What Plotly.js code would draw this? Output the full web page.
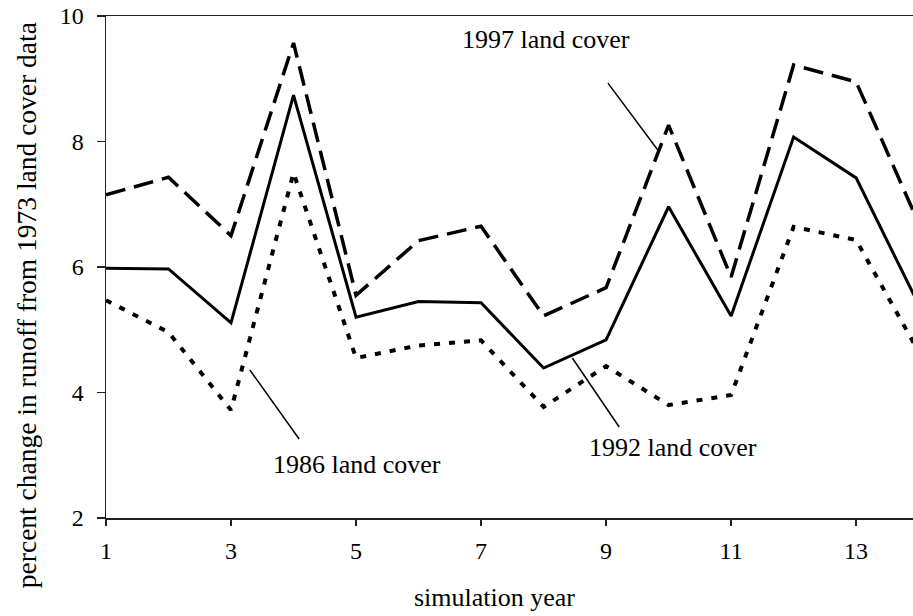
<!DOCTYPE html>
<html>
<head>
<meta charset="utf-8">
<script src="https://cdn.plot.ly/plotly-3.0.1.min.js"></script>
<style>html,body{margin:0;padding:0;background:#fff;}#chart{width:913px;height:616px;}</style>
</head>
<body>
<div id="chart"></div>
<script>
const years = [1,2,3,4,5,6,7,8,9,10,11,12,13,14];
const cover1997 = [7.15,7.43,6.5,9.57,5.55,6.42,6.65,5.22,5.67,8.26,5.84,9.22,8.95,6.7];
const cover1992 = [5.98,5.97,5.11,8.74,5.2,5.45,5.43,4.39,4.84,6.96,5.22,8.07,7.42,5.4];
const cover1986 = [5.47,4.96,3.72,7.5,4.55,4.75,4.83,3.77,4.42,3.8,3.96,6.64,6.43,4.65];
const xTicks = [1,3,5,7,9,11,13];
const yTicks = [2,4,6,8,10];
const xTitle = 'simulation year';
const yTitle = 'percent change in runoff from 1973 land cover data';

const FONT = "'Liberation Serif', 'Times New Roman', serif";

const traces = [
  {x: years, y: cover1997, mode: 'lines', name: '1997 land cover',
   line: {color: '#000', width: 3.5, dash: '20px,9px'}},
  {x: years, y: cover1992, mode: 'lines', name: '1992 land cover',
   line: {color: '#000', width: 3}},
  {x: years, y: cover1986, mode: 'lines', name: '1986 land cover',
   line: {color: '#000', width: 4, dash: '6px,9px'}}
];

const layout = {
  width: 913, height: 616,
  margin: {l: 106, r: 0, t: 16, b: 98},
  paper_bgcolor: '#fff', plot_bgcolor: '#fff',
  showlegend: false,
  font: {family: FONT, color: '#000'},
  xaxis: {
    range: [1, 13.91], tickvals: xTicks, ticktext: xTicks.map(String),
    showgrid: false, zeroline: false, showline: true, linecolor: '#222', linewidth: 1.5,
    mirror: true, ticks: 'outside', ticklen: 6, tickcolor: '#222', tickwidth: 1.5,
    tickfont: {size: 24, family: FONT}, ticklabelstandoff: 5
  },
  yaxis: {
    range: [2, 10], tickvals: yTicks, ticktext: yTicks.map(String),
    showgrid: false, zeroline: false, showline: true, linecolor: '#222', linewidth: 1.5,
    ticks: 'outside', ticklen: 8, tickcolor: '#222', tickwidth: 1.5,
    tickfont: {size: 24, family: FONT}, ticklabelstandoff: 8
  },
  shapes: [
    {type: 'line', xref: 'x', yref: 'y', x0: 9.03, y0: 8.93, x1: 9.83, y1: 7.86, line: {color: '#000', width: 1.5}},
    {type: 'line', xref: 'x', yref: 'y', x0: 3.30, y0: 4.36, x1: 4.09, y1: 3.26, line: {color: '#000', width: 1.5}},
    {type: 'line', xref: 'x', yref: 'y', x0: 8.46, y0: 4.55, x1: 9.21, y1: 3.45, line: {color: '#000', width: 1.5}}
  ],
  annotations: [
    {x: 8.04, y: 9.62, xref: 'x', yref: 'y', text: '1997 land cover', showarrow: false, font: {size: 26, family: FONT}},
    {x: 5.02, y: 2.86, xref: 'x', yref: 'y', text: '1986 land cover', showarrow: false, font: {size: 26, family: FONT}},
    {x: 10.07, y: 3.13, xref: 'x', yref: 'y', text: '1992 land cover', showarrow: false, font: {size: 26, family: FONT}},
    {x: 0.482, y: -0.159, xref: 'paper', yref: 'paper', xanchor: 'center', yanchor: 'middle',
     text: xTitle, showarrow: false, font: {size: 26, family: FONT}},
    {x: -0.0991, y: 0.424, xref: 'paper', yref: 'paper', xanchor: 'center', yanchor: 'middle',
     text: yTitle, textangle: -90, showarrow: false, font: {size: 27.5, family: FONT}}
  ]
};

Plotly.newPlot('chart', traces, layout, {displayModeBar: false, staticPlot: true});
</script>
</body>
</html>
